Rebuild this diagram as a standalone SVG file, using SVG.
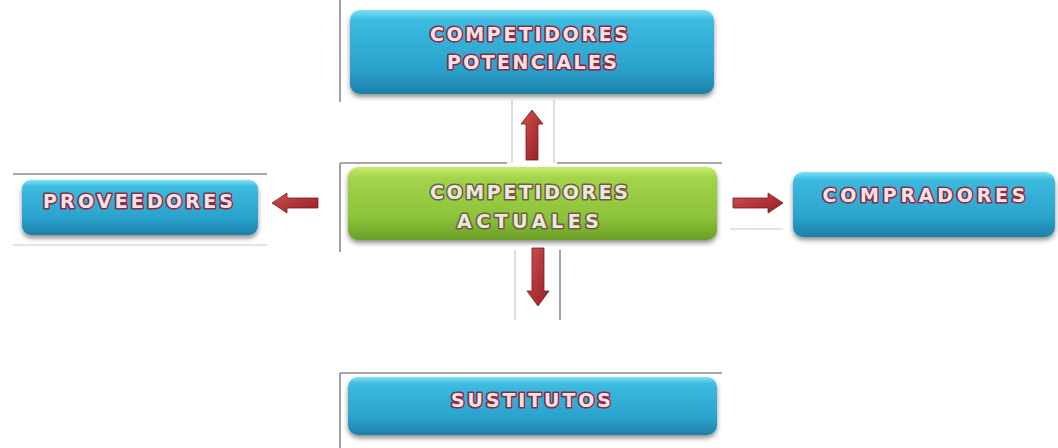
<svg xmlns="http://www.w3.org/2000/svg" width="1058" height="448" viewBox="0 0 1058 448">
<style>
.lbl{font-family:"DejaVu Sans","Liberation Sans",Arial,sans-serif;font-weight:bold;font-size:19px;text-anchor:middle;paint-order:stroke;stroke-width:3.2px;stroke-linejoin:round}
.blue .lbl{fill:#f4e2e6;stroke:#8a2c44}
.green .lbl{fill:#ece8d8;stroke:#6e5e46}
.gl{stroke:#8a8a8a;stroke-width:1.6;fill:none}
.gf{stroke:#c8c8c8;stroke-width:1.2;fill:none}
.arr{fill:url(#ar);stroke:#7a1a1e;stroke-width:0.8}
</style>
<defs>
<linearGradient id="bg" x1="0" y1="0" x2="0" y2="1">
<stop offset="0" stop-color="#7fe0f4"/>
<stop offset="0.12" stop-color="#3cbbe0"/>
<stop offset="0.7" stop-color="#2aa2cc"/>
<stop offset="1" stop-color="#1c7fa8"/>
</linearGradient>
<linearGradient id="gg" x1="0" y1="0" x2="0" y2="1">
<stop offset="0" stop-color="#c8ec6c"/>
<stop offset="0.15" stop-color="#a3d44a"/>
<stop offset="0.7" stop-color="#8cc23a"/>
<stop offset="1" stop-color="#6a9e26"/>
</linearGradient>
<linearGradient id="ar" x1="0" y1="0" x2="1" y2="1">
<stop offset="0" stop-color="#d0504f"/>
<stop offset="1" stop-color="#951d22"/>
</linearGradient>
<filter id="sh" x="-10%" y="-20%" width="120%" height="150%">
<feGaussianBlur in="SourceAlpha" stdDeviation="2.5"/>
<feOffset dy="3" result="b"/>
<feComponentTransfer><feFuncA type="linear" slope="0.45"/></feComponentTransfer>
<feMerge><feMergeNode/><feMergeNode in="SourceGraphic"/></feMerge>
</filter>
</defs>
<rect width="1058" height="448" fill="#ffffff"/>

<g id="frame-lines">
<line class="gl" x1="340" y1="0" x2="340" y2="102"/>
<line class="gl" x1="340" y1="163" x2="507" y2="163"/>
<line class="gl" x1="557" y1="163" x2="722" y2="163"/>
<line class="gl" x1="340" y1="163" x2="340" y2="252"/>
<line class="gf" x1="512" y1="100" x2="512" y2="163"/>
<line class="gf" x1="554" y1="100" x2="554" y2="163"/>
<line class="gf" x1="515" y1="250" x2="515" y2="320"/>
<line class="gl" x1="560" y1="250" x2="560" y2="320"/>
<line class="gl" x1="13" y1="174" x2="267" y2="174"/>
<line class="gf" x1="13" y1="245" x2="267" y2="245"/>
<line class="gf" x1="730" y1="229" x2="783" y2="229"/>
<line class="gl" x1="340" y1="373" x2="722" y2="373"/>
<line class="gl" x1="340" y1="373" x2="340" y2="448"/>
</g>

<g id="connectors">
<polygon class="arr" points="532,110 543,124 538,124 538,160 526,160 526,124 521,124"/>
<polygon class="arr" points="538,306 549,291 544,291 544,248 532,248 532,291 527,291"/>
<polygon class="arr" points="272,203 287,193 287,198 318,198 318,208 287,208 287,213"/>
<polygon class="arr" points="783,203 768,193 768,198 733,198 733,208 768,208 768,213"/>
</g>

<g id="potenciales" class="blue">
<rect x="350" y="10" width="364" height="84" rx="10" fill="url(#bg)" filter="url(#sh)"/>
<text class="lbl" x="529" y="41" textLength="198" lengthAdjust="spacing">COMPETIDORES</text>
<text class="lbl" x="532" y="69" textLength="170" lengthAdjust="spacing">POTENCIALES</text>
</g>

<g id="actuales" class="green">
<rect x="348" y="167" width="369" height="73" rx="10" fill="url(#gg)" filter="url(#sh)"/>
<text class="lbl" x="529" y="199" textLength="198" lengthAdjust="spacing">COMPETIDORES</text>
<text class="lbl" x="528" y="228" textLength="142" lengthAdjust="spacing">ACTUALES</text>
</g>

<g id="proveedores" class="blue">
<rect x="22" y="180" width="236" height="55" rx="9" fill="url(#bg)" filter="url(#sh)"/>
<text class="lbl" x="138" y="208" textLength="190" lengthAdjust="spacing">PROVEEDORES</text>
</g>

<g id="compradores" class="blue">
<rect x="793" y="172" width="262" height="65" rx="10" fill="url(#bg)" filter="url(#sh)"/>
<text class="lbl" x="924" y="202" textLength="203" lengthAdjust="spacing">COMPRADORES</text>
</g>

<g id="sustitutos" class="blue">
<rect x="348" y="377" width="369" height="58" rx="10" fill="url(#bg)" filter="url(#sh)"/>
<text class="lbl" x="531" y="407" textLength="160" lengthAdjust="spacing">SUSTITUTOS</text>
</g>
</svg>
